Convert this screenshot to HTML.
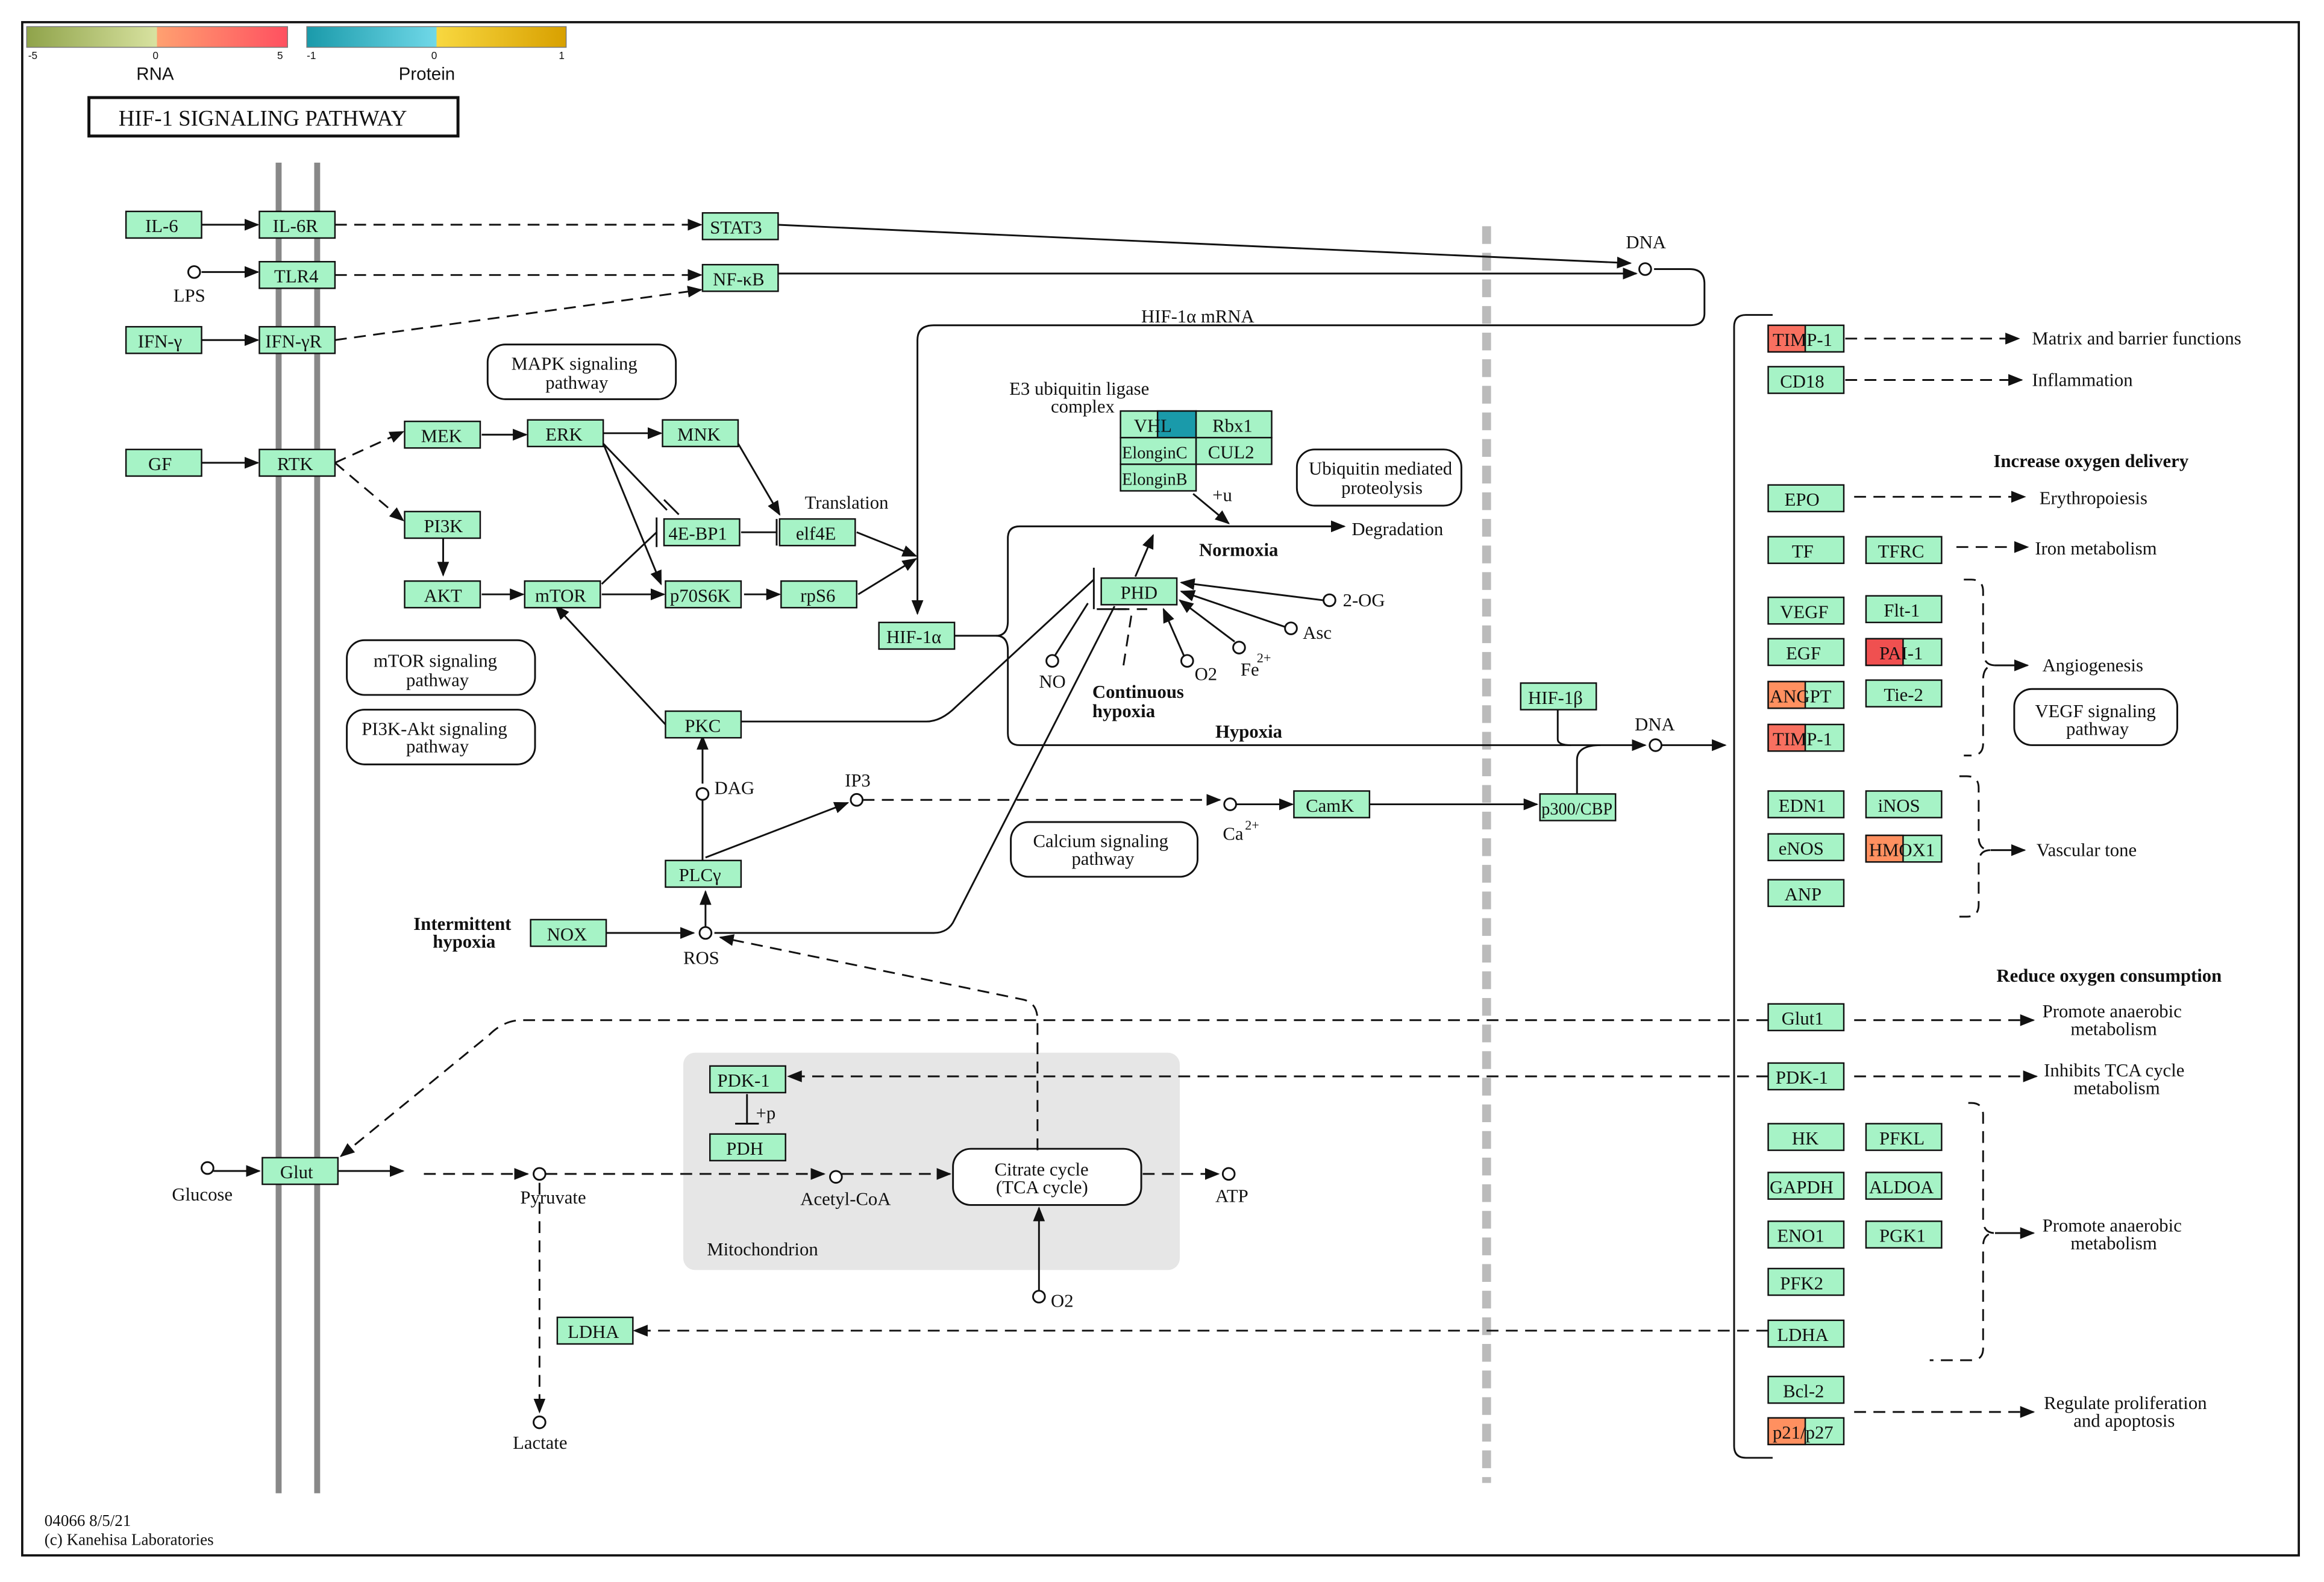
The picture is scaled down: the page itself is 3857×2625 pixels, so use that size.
<!DOCTYPE html>
<html><head><meta charset="utf-8"><style>
html,body{margin:0;padding:0;background:#fff}
svg{display:block}
text{font-family:"Liberation Serif",serif;font-size:12.5px;fill:#111}
.b{font-weight:bold}
.g{fill:#a6f3c6;stroke:#111;stroke-width:1}
.l{fill:none;stroke:#111;stroke-width:1.2}
.d{fill:none;stroke:#111;stroke-width:1.2;stroke-dasharray:8 5}
.c{fill:#fff;stroke:#111;stroke-width:1.2}
.m{fill:#fff;stroke:#111;stroke-width:1.2}
</style></head><body>
<svg width="3857" height="2625" viewBox="0 0 1568 1070" preserveAspectRatio="none" xmlns="http://www.w3.org/2000/svg">
<defs>
<marker id="a" markerWidth="10" markerHeight="8" refX="9" refY="4" orient="auto" markerUnits="userSpaceOnUse"><path d="M0,0L10,4L0,8z" fill="#111"/></marker>
<linearGradient id="rna" x1="0" x2="1"><stop offset="0" stop-color="#8fa34a"/><stop offset="0.5" stop-color="#d8e2a0"/><stop offset="0.5" stop-color="#ffa070"/><stop offset="1" stop-color="#ff5060"/></linearGradient>
<linearGradient id="pro" x1="0" x2="1"><stop offset="0" stop-color="#1a9aaa"/><stop offset="0.5" stop-color="#70d8e8"/><stop offset="0.5" stop-color="#f8d840"/><stop offset="1" stop-color="#d8a000"/></linearGradient>
</defs>
<rect x="15" y="15" width="1536" height="1037" fill="#fff" stroke="#111" stroke-width="1.5"/>
<!-- legend -->
<rect x="18" y="18" width="176" height="14" fill="url(#rna)" stroke="#777" stroke-width="0.6"/>
<rect x="207" y="18" width="175" height="14" fill="url(#pro)" stroke="#777" stroke-width="0.6"/>
<g style="font-family:'Liberation Sans',sans-serif" font-size="7"><text x="19" y="40" style="font-size:7px;font-family:'Liberation Sans'">-5</text><text x="103" y="40" style="font-size:7px;font-family:'Liberation Sans'">0</text><text x="187" y="40" style="font-size:7px;font-family:'Liberation Sans'">5</text><text x="207" y="40" style="font-size:7px;font-family:'Liberation Sans'">-1</text><text x="291" y="40" style="font-size:7px;font-family:'Liberation Sans'">0</text><text x="377" y="40" style="font-size:7px;font-family:'Liberation Sans'">1</text></g>
<text x="92" y="54" style="font-family:'Liberation Sans',sans-serif;font-size:12px">RNA</text>
<text x="269" y="54" style="font-family:'Liberation Sans',sans-serif;font-size:12px">Protein</text>
<rect x="60" y="66" width="249" height="26" fill="#fff" stroke="#111" stroke-width="2"/>
<text x="80" y="85" style="font-size:15px">HIF-1 SIGNALING PATHWAY</text>
<!-- membrane -->
<line x1="188" y1="110" x2="188" y2="1010" stroke="#888" stroke-width="4"/>
<line x1="214" y1="110" x2="214" y2="1010" stroke="#888" stroke-width="4"/>
<line x1="1003" y1="153" x2="1003" y2="1003" stroke="#bbb" stroke-width="6" stroke-dasharray="12 6"/>
<!-- mitochondrion -->
<rect x="461" y="712" width="335" height="147" rx="8" fill="#e6e6e6"/>
<text x="477" y="849">Mitochondrion</text>
<!-- right bracket -->
<path class="l" d="M1196,213 H1178 Q1170,213 1170,221 V978 Q1170,986 1178,986 H1196"/>
<!-- pathway ellipses -->
<rect class="m" x="329" y="233" width="127" height="37" rx="12"/><text x="345" y="250">MAPK signaling</text><text x="368" y="263">pathway</text>
<rect class="m" x="234" y="433" width="127" height="37" rx="12"/><text x="252" y="451">mTOR signaling</text><text x="274" y="464">pathway</text>
<rect class="m" x="234" y="480" width="127" height="37" rx="12"/><text x="244" y="497">PI3K-Akt signaling</text><text x="274" y="509">pathway</text>
<rect class="m" x="875" y="304" width="111" height="38" rx="12"/><text x="883" y="321">Ubiquitin mediated</text><text x="905" y="334">proteolysis</text>
<rect class="m" x="682" y="556" width="126" height="37" rx="12"/><text x="697" y="573">Calcium signaling</text><text x="723" y="585">pathway</text>
<rect class="m" x="643" y="777" width="127" height="38" rx="12"/><text x="671" y="795">Citrate cycle</text><text x="672" y="807">(TCA cycle)</text>
<rect class="m" x="1359" y="466" width="110" height="38" rx="12"/><text x="1373" y="485">VEGF signaling</text><text x="1394" y="497">pathway</text>
<!-- edges -->
<path class="l" d="M136,152H174" marker-end="url(#a)"/>
<path class="d" d="M226,152H473" marker-end="url(#a)"/>
<path class="l" d="M524,152L1100,178" marker-end="url(#a)"/>
<path class="l" d="M136,184H174" marker-end="url(#a)"/>
<path class="d" d="M226,186H473" marker-end="url(#a)"/>
<path class="l" d="M525,185H1104" marker-end="url(#a)"/>
<path class="l" d="M136,230H174" marker-end="url(#a)"/>
<path class="d" d="M226,230L473,196" marker-end="url(#a)"/>
<path class="l" d="M1116,182H1140Q1150,182 1150,192V212Q1150,220 1140,220H630Q619,220 619,230V415" marker-end="url(#a)"/>
<text x="770" y="218">HIF-1α mRNA</text>
<path class="l" d="M134,313H174" marker-end="url(#a)"/>
<path class="d" d="M226,313L272,292" marker-end="url(#a)"/>
<path class="d" d="M226,313L272,352" marker-end="url(#a)"/>
<path class="l" d="M325,294H355" marker-end="url(#a)"/>
<path class="l" d="M407,293H446" marker-end="url(#a)"/>
<path class="l" d="M498,300L526,348" marker-end="url(#a)"/>
<path class="l" d="M407,300L450,345M448,338L458,348"/>
<path class="l" d="M407,300L446,395" marker-end="url(#a)"/>
<path class="l" d="M299,364V389" marker-end="url(#a)"/>
<path class="l" d="M325,402H353" marker-end="url(#a)"/>
<path class="l" d="M406,402H448" marker-end="url(#a)"/>
<path class="l" d="M406,395L443,360M443,350V370"/>
<path class="l" d="M500,360H524M524,351V369"/>
<path class="l" d="M502,402H526" marker-end="url(#a)"/>
<path class="l" d="M579,402L618,378" marker-end="url(#a)"/>
<path class="l" d="M578,360L618,376" marker-end="url(#a)"/>
<text x="543" y="344">Translation</text>
<path class="l" d="M449,490L375,410" marker-end="url(#a)"/>
<path class="l" d="M500,488H625Q635,488 645,478L738,392"/>
<path class="l" d="M738,384V412"/>
<path class="l" d="M474,530V498" marker-end="url(#a)"/>
<circle class="c" cx="474" cy="537" r="4"/><text x="482" y="537">DAG</text>
<path class="l" d="M474,582V541"/>
<path class="l" d="M476,580L572,543" marker-end="url(#a)"/>
<circle class="c" cx="578" cy="541" r="4"/><text x="570" y="532">IP3</text>
<path class="d" d="M582,541H823" marker-end="url(#a)"/>
<circle class="c" cx="830" cy="544" r="4"/><text x="825" y="568">Ca</text><text x="840" y="561" style="font-size:9px">2+</text>
<path class="l" d="M834,544H872" marker-end="url(#a)"/>
<path class="l" d="M924,544H1037" marker-end="url(#a)"/>
<path class="l" d="M409,631H468" marker-end="url(#a)"/>
<circle class="c" cx="476" cy="631" r="4"/><text x="461" y="652">ROS</text>
<path class="l" d="M476,627V603" marker-end="url(#a)"/>
<path class="l" d="M482,631H630Q640,631 644,622L752,410"/>
<path class="d" d="M700,778V690Q700,678 690,676L486,634" marker-end="url(#a)"/>
<text x="279" y="629" class="b">Intermittent</text><text x="292" y="641" class="b">hypoxia</text>
<!-- HIF1a branch -->
<path class="l" d="M644,430H672Q680,430 680,420V364Q680,356 688,356H907" marker-end="url(#a)"/>
<path class="l" d="M672,430Q680,430 680,440V496Q680,504 688,504H1110" marker-end="url(#a)"/>
<text x="912" y="362">Degradation</text>
<text x="809" y="376" class="b">Normoxia</text>
<text x="820" y="499" class="b">Hypoxia</text>
<path class="l" d="M766,390L778,362" marker-end="url(#a)"/>
<path class="l" d="M805,334L829,354" marker-end="url(#a)"/><text x="818" y="339">+u</text>
<path class="l" d="M893,406L797,394" marker-end="url(#a)"/><circle class="c" cx="897" cy="406" r="4"/><text x="906" y="410">2-OG</text>
<path class="l" d="M867,424L797,400" marker-end="url(#a)"/><circle class="c" cx="871" cy="425" r="4"/><text x="879" y="432">Asc</text>
<path class="l" d="M833,434L796,406" marker-end="url(#a)"/><circle class="c" cx="836" cy="438" r="4"/><text x="837" y="457">Fe</text><text x="848" y="448" style="font-size:9px">2+</text>
<path class="l" d="M799,444L785,412" marker-end="url(#a)"/><circle class="c" cx="801" cy="447" r="4"/><text x="806" y="460">O2</text>
<path class="l" d="M712,443L734,408"/><circle class="c" cx="710" cy="447" r="4"/><text x="701" y="465">NO</text>
<path class="d" d="M758,450L764,412M754,412H774" stroke-dasharray="6 3"/>
<path class="l" d="M740,412H760"/>
<text x="737" y="472" class="b">Continuous</text><text x="737" y="485" class="b">hypoxia</text>
<text x="681" y="267">E3 ubiquitin ligase</text><text x="709" y="279">complex</text>
<path class="l" d="M1051,480V500Q1051,504 1060,504"/>
<path class="l" d="M1080,504Q1064,504 1064,514V537"/>
<circle class="c" cx="1117" cy="504" r="4"/><text x="1103" y="494">DNA</text>
<path class="l" d="M1121,504H1164" marker-end="url(#a)"/>
<circle class="c" cx="1110" cy="182" r="4"/><text x="1097" y="168">DNA</text>
<!-- glycolysis -->
<circle class="c" cx="140" cy="790" r="4"/><text x="116" y="812">Glucose</text>
<path class="l" d="M144,792H175" marker-end="url(#a)"/>
<path class="l" d="M228,792H272" marker-end="url(#a)"/>
<path class="d" d="M286,794H356" marker-end="url(#a)"/>
<circle class="c" cx="364" cy="794" r="4"/><text x="351" y="814">Pyruvate</text>
<path class="d" d="M368,794H556" marker-end="url(#a)"/>
<circle class="c" cx="564" cy="796" r="4"/><text x="540" y="815">Acetyl-CoA</text>
<path class="d" d="M568,794H641" marker-end="url(#a)"/>
<path class="d" d="M771,794H822" marker-end="url(#a)"/>
<circle class="c" cx="829" cy="794" r="4"/><text x="820" y="813">ATP</text>
<path class="l" d="M701,873V817" marker-end="url(#a)"/>
<circle class="c" cx="701" cy="877" r="4"/><text x="709" y="884">O2</text>
<path class="d" d="M364,800V955" marker-end="url(#a)"/>
<circle class="c" cx="364" cy="962" r="4"/><text x="346" y="980">Lactate</text>
<path class="l" d="M504,740V760M496,760H512"/><text x="510" y="757">+p</text>
<path class="d" d="M1193,690H352Q340,690 330,700L230,782" marker-end="url(#a)"/>
<path class="d" d="M1193,728H532" marker-end="url(#a)"/>
<path class="d" d="M1193,900H428" marker-end="url(#a)"/>
<!-- right dashed outputs -->
<path class="d" d="M1245,229H1362" marker-end="url(#a)"/><text x="1371" y="233">Matrix and barrier functions</text>
<path class="d" d="M1245,257H1364" marker-end="url(#a)"/><text x="1371" y="261">Inflammation</text>
<text x="1345" y="316" class="b">Increase oxygen delivery</text>
<path class="d" d="M1251,336H1366" marker-end="url(#a)"/><text x="1376" y="341">Erythropoiesis</text>
<path class="d" d="M1320,370H1368" marker-end="url(#a)"/><text x="1373" y="375">Iron metabolism</text>
<path class="d" d="M1325,392H1330Q1338,392 1338,400V440Q1338,450 1346,450Q1338,450 1338,460V503Q1338,511 1330,511H1325"/>
<path class="l" d="M1346,450H1368" marker-end="url(#a)"/><text x="1378" y="454">Angiogenesis</text>
<path class="d" d="M1322,525H1327Q1335,525 1335,533V566Q1335,575 1343,575Q1335,575 1335,584V612Q1335,620 1327,620H1322"/>
<path class="l" d="M1343,575H1366" marker-end="url(#a)"/><text x="1374" y="579">Vascular tone</text>
<text x="1347" y="664" class="b">Reduce oxygen consumption</text>
<path class="d" d="M1251,690H1372" marker-end="url(#a)"/><text x="1378" y="688">Promote anaerobic</text><text x="1397" y="700">metabolism</text>
<path class="d" d="M1251,728H1374" marker-end="url(#a)"/><text x="1379" y="728">Inhibits TCA cycle</text><text x="1399" y="740">metabolism</text>
<path class="d" d="M1328,746H1330Q1338,746 1338,754V825Q1338,834 1346,834Q1338,834 1338,843V912Q1338,920 1330,920H1302"/>
<path class="l" d="M1346,834H1372" marker-end="url(#a)"/><text x="1378" y="833">Promote anaerobic</text><text x="1397" y="845">metabolism</text>
<path class="d" d="M1251,955H1372" marker-end="url(#a)"/><text x="1379" y="953">Regulate proliferation</text><text x="1399" y="965">and apoptosis</text>
<text x="117" y="204">LPS</text><circle class="c" cx="131" cy="184" r="4"/>
<!-- nodes -->
<g>
<rect class="g" x="85" y="143" width="51" height="18"/><text x="98" y="157">IL-6</text>
<rect class="g" x="175" y="143" width="51" height="18"/><text x="184" y="157">IL-6R</text>
<rect class="g" x="474" y="144" width="51" height="18"/><text x="479" y="158">STAT3</text>
<rect class="g" x="175" y="177" width="51" height="18"/><text x="185" y="191">TLR4</text>
<rect class="g" x="474" y="179" width="51" height="18"/><text x="481" y="193">NF-κB</text>
<rect class="g" x="85" y="221" width="51" height="18"/><text x="93" y="235">IFN-γ</text>
<rect class="g" x="175" y="221" width="51" height="18"/><text x="179" y="235">IFN-γR</text>
<rect class="g" x="85" y="304" width="51" height="18"/><text x="100" y="318">GF</text>
<rect class="g" x="175" y="304" width="51" height="18"/><text x="187" y="318">RTK</text>
<rect class="g" x="273" y="285" width="51" height="18"/><text x="284" y="299">MEK</text>
<rect class="g" x="356" y="284" width="51" height="18"/><text x="368" y="298">ERK</text>
<rect class="g" x="447" y="284" width="51" height="18"/><text x="457" y="298">MNK</text>
<rect class="g" x="273" y="346" width="51" height="18"/><text x="286" y="360">PI3K</text>
<rect class="g" x="273" y="393" width="51" height="18"/><text x="286" y="407">AKT</text>
<rect class="g" x="354" y="393" width="51" height="18"/><text x="361" y="407">mTOR</text>
<rect class="g" x="448" y="351" width="51" height="18"/><text x="451" y="365">4E-BP1</text>
<rect class="g" x="526" y="351" width="51" height="18"/><text x="537" y="365">elf4E</text>
<rect class="g" x="449" y="393" width="51" height="18"/><text x="452" y="407">p70S6K</text>
<rect class="g" x="527" y="393" width="51" height="18"/><text x="540" y="407">rpS6</text>
<rect class="g" x="593" y="421" width="51" height="18"/><text x="598" y="435">HIF-1α</text>
<rect class="g" x="449" y="481" width="51" height="18"/><text x="462" y="495">PKC</text>
<rect class="g" x="449" y="582" width="51" height="18"/><text x="458" y="596">PLCγ</text>
<rect class="g" x="358" y="622" width="51" height="18"/><text x="369" y="636">NOX</text>
<rect class="g" x="756" y="278" width="51" height="18"/><rect x="781" y="278" width="26" height="18" fill="#1a9aaa" stroke="#111"/><text x="765" y="292">VHL</text>
<rect class="g" x="807" y="278" width="51" height="18"/><text x="818" y="292">Rbx1</text>
<rect class="g" x="756" y="296" width="51" height="18"/><text x="757" y="310" style="font-size:11.5px">ElonginC</text>
<rect class="g" x="807" y="296" width="51" height="18"/><text x="815" y="310">CUL2</text>
<rect class="g" x="756" y="314" width="51" height="18"/><text x="757" y="328" style="font-size:11.5px">ElonginB</text>
<rect class="g" x="743" y="391" width="51" height="18"/><text x="756" y="405">PHD</text>
<rect class="g" x="1026" y="462" width="51" height="18"/><text x="1031" y="476">HIF-1β</text>
<rect class="g" x="1039" y="537" width="51" height="18"/><text x="1040" y="551" style="font-size:11.5px">p300/CBP</text>
<rect class="g" x="873" y="535" width="51" height="18"/><text x="881" y="549">CamK</text>
<rect class="g" x="177" y="783" width="51" height="18"/><text x="189" y="797">Glut</text>
<rect class="g" x="479" y="721" width="51" height="18"/><text x="484" y="735">PDK-1</text>
<rect class="g" x="479" y="767" width="51" height="18"/><text x="490" y="781">PDH</text>
<rect class="g" x="376" y="891" width="51" height="18"/><text x="383" y="905">LDHA</text>
<!-- right column -->
<rect class="g" x="1193" y="220" width="51" height="18"/><rect x="1193" y="220" width="25" height="18" fill="#f87060" stroke="#111"/><text x="1196" y="234">TIMP-1</text>
<rect class="g" x="1193" y="248" width="51" height="18"/><text x="1201" y="262">CD18</text>
<rect class="g" x="1193" y="328" width="51" height="18"/><text x="1204" y="342">EPO</text>
<rect class="g" x="1193" y="363" width="51" height="18"/><text x="1209" y="377">TF</text>
<rect class="g" x="1259" y="363" width="51" height="18"/><text x="1267" y="377">TFRC</text>
<rect class="g" x="1193" y="404" width="51" height="18"/><text x="1201" y="418">VEGF</text>
<rect class="g" x="1259" y="403" width="51" height="18"/><text x="1271" y="417">Flt-1</text>
<rect class="g" x="1193" y="432" width="51" height="18"/><text x="1205" y="446">EGF</text>
<rect class="g" x="1259" y="432" width="51" height="18"/><rect x="1259" y="432" width="25" height="18" fill="#f05050" stroke="#111"/><text x="1268" y="446">PAI-1</text>
<rect class="g" x="1193" y="461" width="51" height="18"/><rect x="1193" y="461" width="25" height="18" fill="#ff9060" stroke="#111"/><text x="1194" y="475">ANGPT</text>
<rect class="g" x="1259" y="460" width="51" height="18"/><text x="1271" y="474">Tie-2</text>
<rect class="g" x="1193" y="490" width="51" height="18"/><rect x="1193" y="490" width="25" height="18" fill="#f87060" stroke="#111"/><text x="1196" y="504">TIMP-1</text>
<rect class="g" x="1193" y="535" width="51" height="18"/><text x="1200" y="549">EDN1</text>
<rect class="g" x="1259" y="535" width="51" height="18"/><text x="1267" y="549">iNOS</text>
<rect class="g" x="1193" y="564" width="51" height="18"/><text x="1200" y="578">eNOS</text>
<rect class="g" x="1259" y="565" width="51" height="18"/><rect x="1259" y="565" width="25" height="18" fill="#ff9060" stroke="#111"/><text x="1261" y="579">HMOX1</text>
<rect class="g" x="1193" y="595" width="51" height="18"/><text x="1204" y="609">ANP</text>
<rect class="g" x="1193" y="679" width="51" height="18"/><text x="1202" y="693">Glut1</text>
<rect class="g" x="1193" y="719" width="51" height="18"/><text x="1198" y="733">PDK-1</text>
<rect class="g" x="1193" y="760" width="51" height="18"/><text x="1209" y="774">HK</text>
<rect class="g" x="1259" y="760" width="51" height="18"/><text x="1268" y="774">PFKL</text>
<rect class="g" x="1193" y="793" width="51" height="18"/><text x="1194" y="807">GAPDH</text>
<rect class="g" x="1259" y="793" width="51" height="18"/><text x="1261" y="807">ALDOA</text>
<rect class="g" x="1193" y="826" width="51" height="18"/><text x="1199" y="840">ENO1</text>
<rect class="g" x="1259" y="826" width="51" height="18"/><text x="1268" y="840">PGK1</text>
<rect class="g" x="1193" y="858" width="51" height="18"/><text x="1201" y="872">PFK2</text>
<rect class="g" x="1193" y="893" width="51" height="18"/><text x="1199" y="907">LDHA</text>
<rect class="g" x="1193" y="931" width="51" height="18"/><text x="1203" y="945">Bcl-2</text>
<rect class="g" x="1193" y="959" width="51" height="18"/><rect x="1193" y="959" width="25" height="18" fill="#ff9060" stroke="#111"/><text x="1196" y="973">p21/p27</text>
</g>
<text x="30" y="1032" style="font-size:11px">04066 8/5/21</text>
<text x="30" y="1045" style="font-size:11px">(c) Kanehisa Laboratories</text>
</svg>
</body></html>
